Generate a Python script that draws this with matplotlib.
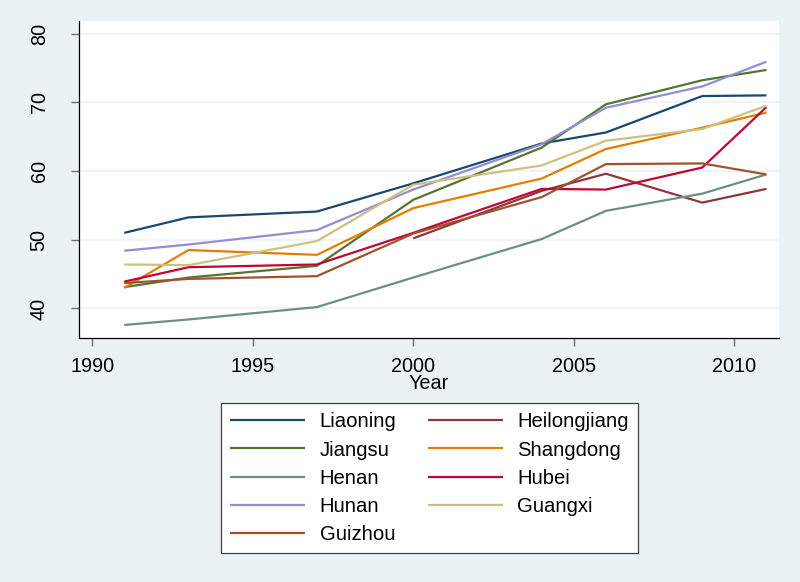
import matplotlib
matplotlib.use('Agg')
import matplotlib.pyplot as plt

plt.rcParams['font.family'] = ['Liberation Sans', 'DejaVu Sans']

years = [1991, 1993, 1997, 2000, 2004, 2006, 2009, 2011]
years_hlj = [2000, 2004, 2006, 2009, 2011]

liaoning = [51.0, 53.25, 54.1, 58.2, 64.0, 65.6, 70.9, 71.0]
heilongjiang = [50.2, 57.1, 59.6, 55.4, 57.4]
jiangsu = [43.1, 44.5, 46.2, 55.8, 63.4, 69.7, 73.2, 74.7]
shangdong = [43.0, 48.5, 47.8, 54.6, 58.9, 63.2, 66.3, 68.5]
henan = [37.6, 38.4, 40.2, 44.5, 50.1, 54.2, 56.7, 59.5]
hubei = [43.9, 46.0, 46.4, 51.0, 57.4, 57.3, 60.5, 69.3]
hunan = [48.4, 49.3, 51.4, 57.3, 63.9, 69.2, 72.3, 75.9]
guangxi = [46.4, 46.3, 49.8, 58.0, 60.8, 64.4, 66.1, 69.5]
guizhou = [43.7, 44.3, 44.7, 50.9, 56.2, 61.0, 61.1, 59.5]

# stata s2color order
series = [
    ('Liaoning', years, liaoning, '#1a476f'),
    ('Heilongjiang', years_hlj, heilongjiang, '#90353b'),
    ('Jiangsu', years, jiangsu, '#55752f'),
    ('Shangdong', years, shangdong, '#e37e00'),
    ('Henan', years, henan, '#6e8e84'),
    ('Hubei', years, hubei, '#c10534'),
    ('Hunan', years, hunan, '#938dd2'),
    ('Guangxi', years, guangxi, '#cac27e'),
    ('Guizhou', years, guizhou, '#a0522d'),
]

bg = '#eaf2f3'
fig = plt.figure(figsize=(8, 5.82), dpi=100, facecolor=bg)
ax = fig.add_axes([0.0991, 0.4192, 0.8746, 0.5452])
ax.set_facecolor('white')

lineas = {}
for nombre, xs, ys, col in series:
    l, = ax.plot(xs, ys, color=col, lw=1.6, label=nombre, solid_capstyle='butt')
    lineas[nombre] = l

ax.set_xlim(1989.6, 2011.39)
ax.set_ylim(35.7, 81.86)
ax.set_xticks([1990, 1995, 2000, 2005, 2010])
ax.set_yticks([40, 50, 60, 70, 80])
ax.yaxis.grid(True, color=bg, lw=1.2)
ax.set_axisbelow(True)

for s in ['top', 'right']:
    ax.spines[s].set_visible(False)
for s in ['left', 'bottom']:
    ax.spines[s].set_color('black')
    ax.spines[s].set_linewidth(0.9)

ax.tick_params(axis='both', direction='out', color='#6f6f6f', width=1,
               labelsize=14.3, labelcolor='black')
ax.tick_params(axis='y', length=6, pad=16, labelrotation=90)
ax.tick_params(axis='x', length=5.5, pad=8)
for t in ax.get_yticklabels():
    t.set_va('center')

ax.set_xlabel('Year', fontsize=14.3, labelpad=-1)

orden = ['Liaoning', 'Jiangsu', 'Henan', 'Hunan', 'Guizhou',
         'Heilongjiang', 'Shangdong', 'Hubei', 'Guangxi']
leg = ax.legend([lineas[n] for n in orden], orden, ncol=2,
                loc='upper center', bbox_to_anchor=(429.4 / 800, 1 - 403.3 / 582),
                bbox_transform=fig.transFigure, fontsize=14.6, frameon=True,
                fancybox=False, edgecolor='#404040', framealpha=1,
                handlelength=3.7, handletextpad=0.7, columnspacing=1.55,
                labelspacing=0.45, borderpad=0.45, borderaxespad=0)
leg.get_frame().set_linewidth(0.9)

fig.savefig('out.png', dpi=100, facecolor=bg)
